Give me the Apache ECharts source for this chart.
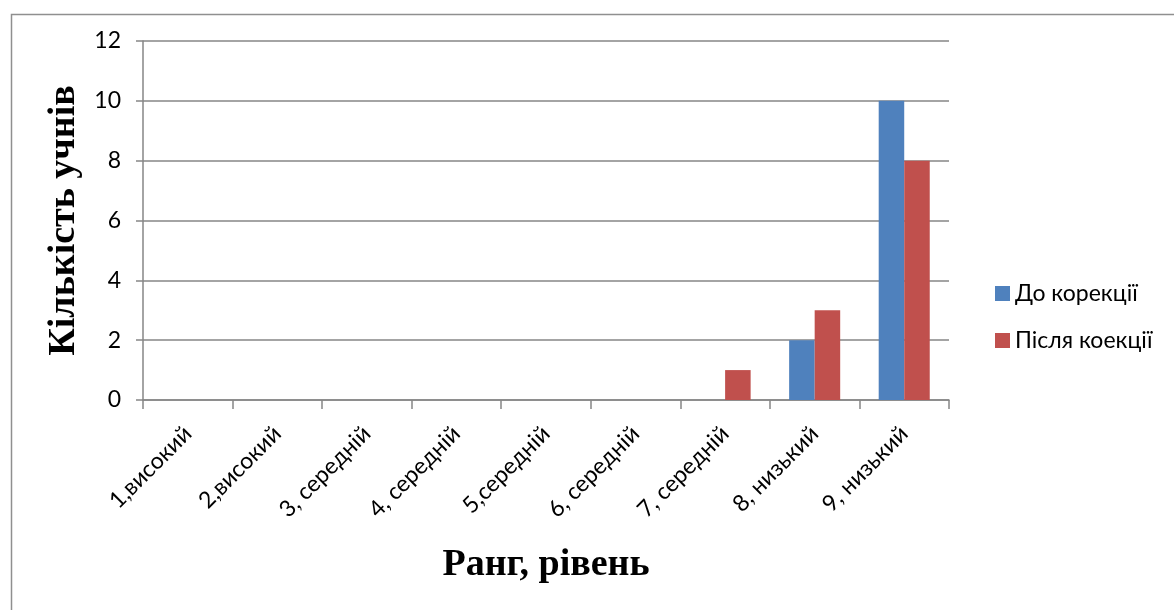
<!DOCTYPE html>
<html>
<head>
<meta charset="utf-8">
<style>
  html, body { margin: 0; padding: 0; background: #fff; }
  #chart { width: 1174px; height: 610px; }
</style>
<script src="https://cdn.jsdelivr.net/npm/echarts@6/dist/echarts.min.js"></script>
</head>
<body>
<div id="chart"></div>
<script>
// Ranks / levels on the category axis
const categories = ['1,високий', '2,високий', '3, середній', '4, середній', '5,середній', '6, середній', '7, середній', '8, низький', '9, низький'];
// Number of pupils per rank, before and after correction
const beforeValues = [0, 0, 0, 0, 0, 0, 0, 2, 10];
const afterValues = [0, 0, 0, 0, 0, 0, 1, 3, 8];
const seriesNames = ['До корекції', 'Після коекції'];
const yTicks = { min: 0, max: 12, interval: 2 };

const labelFont = 'Lato, "Open Sans", sans-serif';
const titleFont = '"Liberation Serif", "DejaVu Serif", serif';
const lineColor = '#868686';

const chart = echarts.init(document.getElementById('chart'));
chart.setOption({
  animation: false,
  backgroundColor: '#ffffff',
  graphic: [{
    type: 'rect',
    left: 9, top: 12,
    shape: { width: 1200, height: 700 },
    style: { fill: 'none', stroke: '#8f8f8f', lineWidth: 1.5 },
    silent: true
  }],
  grid: { left: 143, right: 225, top: 41, bottom: 210 },
  legend: {
    orient: 'vertical',
    left: 990, top: 277,
    itemWidth: 15, itemHeight: 15,
    itemGap: 24,
    icon: 'rect',
    textStyle: { fontFamily: labelFont, fontSize: 23, color: '#000' },
    data: seriesNames
  },
  xAxis: {
    type: 'category',
    data: categories,
    boundaryGap: true,
    name: 'Ранг, рівень',
    nameLocation: 'middle',
    nameGap: 146,
    nameTextStyle: { fontFamily: titleFont, fontWeight: 'bold', fontSize: 38, color: '#000' },
    axisLine: { lineStyle: { color: lineColor, width: 1.5 } },
    axisTick: { show: true, alignWithLabel: false, length: 9, lineStyle: { color: lineColor, width: 1.5 } },
    axisLabel: { rotate: 45, interval: 0, margin: 30, fontFamily: labelFont, fontSize: 23, color: '#000' }
  },
  yAxis: {
    type: 'value',
    min: yTicks.min, max: yTicks.max, interval: yTicks.interval,
    name: 'Кількість учнів',
    nameLocation: 'middle',
    nameRotate: 90,
    nameGap: 58,
    nameTextStyle: { fontFamily: titleFont, fontWeight: 'bold', fontSize: 38, color: '#000' },
    axisLine: { show: true, lineStyle: { color: lineColor, width: 1.5 } },
    axisTick: { show: true, length: 7, lineStyle: { color: lineColor, width: 1.5 } },
    splitLine: { show: true, lineStyle: { color: lineColor, width: 1.5 } },
    axisLabel: { margin: 22, fontFamily: labelFont, fontSize: 23, color: '#000' }
  },
  series: [
    {
      name: seriesNames[0], type: 'bar', data: beforeValues,
      barGap: '0%', barCategoryGap: '43%',
      itemStyle: { color: '#4F81BD' }
    },
    {
      name: seriesNames[1], type: 'bar', data: afterValues,
      barGap: '0%', barCategoryGap: '43%',
      itemStyle: { color: '#C0504D' }
    }
  ]
});
</script>
</body>
</html>
